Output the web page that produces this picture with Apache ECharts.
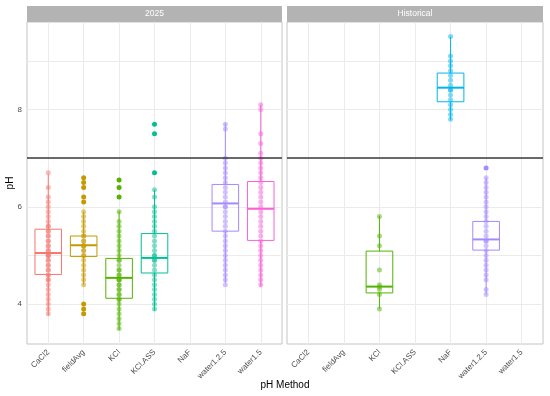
<!DOCTYPE html>
<html><head><meta charset="utf-8">
<script src="https://cdn.jsdelivr.net/npm/echarts@6/dist/echarts.min.js"></script>
<style>html,body{margin:0;padding:0;background:#fff}#c{width:550px;height:396px}</style>
</head><body><div id="c"></div>
<script>
// ---------- data ----------
const categories = ['CaCl2', 'fieldAvg', 'KCl', 'KCl.ASS', 'NaF', 'water1.2.5', 'water1.5'];
const colors = ['#F8766D', '#C49A00', '#53B400', '#00C094', '#00B6EB', '#A58AFF', '#FB61D7'];
const panels = ['2025', 'Historical'];
const yTickLabels = [4, 6, 8];
const yGridValues = [3, 4, 5, 6, 7, 8, 9];
const refLineValue = 7;

// box stats: [category index, lower whisker, Q1, median, Q3, upper whisker]
const box2025 = [
  [0, 3.77, 4.61, 5.05, 5.54, 6.67],
  [1, 4.40, 4.98, 5.21, 5.40, 5.90],
  [2, 3.47, 4.12, 4.54, 4.94, 5.91],
  [3, 3.86, 4.64, 4.95, 5.45, 6.35],
  [5, 4.44, 5.50, 6.07, 6.46, 7.72],
  [6, 4.36, 5.31, 5.96, 6.52, 8.10]
];
const boxHistorical = [
  [2, 3.91, 4.23, 4.36, 5.09, 5.81],
  [4, 7.79, 8.16, 8.45, 8.75, 9.50],
  [5, 4.20, 5.11, 5.33, 5.70, 6.60]
];

// 2025 observations
const pts2025_CaCl2 = [6.7, 6.4, 6.2, 6.1, 6.0, 5.9, 5.8, 5.7, 5.6, 5.6, 5.5, 5.5, 5.4, 5.4, 5.3, 5.3, 5.2, 5.2, 5.1, 5.1, 5.0, 5.0, 5.0, 4.9, 4.9, 4.8, 4.8, 4.7, 4.7, 4.6, 4.6, 4.5, 4.5, 4.4, 4.3, 4.2, 4.1, 4.0, 3.9, 3.8];
const pts2025_fieldAvg = [5.9, 5.8, 5.7, 5.6, 5.5, 5.4, 5.4, 5.3, 5.3, 5.2, 5.2, 5.2, 5.1, 5.1, 5.0, 5.0, 4.9, 4.8, 4.7, 4.6, 4.5, 4.4];
const out2025_fieldAvg = [6.6, 6.5, 6.4, 6.2, 6.1, 4.0, 3.9, 3.8];
const pts2025_KCl = [5.9, 5.7, 5.6, 5.5, 5.4, 5.3, 5.2, 5.1, 5.0, 4.9, 4.9, 4.8, 4.7, 4.7, 4.6, 4.6, 4.5, 4.5, 4.5, 4.4, 4.4, 4.3, 4.3, 4.2, 4.2, 4.1, 4.1, 4.0, 3.9, 3.8, 3.7, 3.6, 3.5];
const out2025_KCl = [6.55, 6.4, 6.2];
const pts2025_KClASS = [6.35, 6.2, 6.0, 5.9, 5.8, 5.7, 5.6, 5.5, 5.4, 5.3, 5.2, 5.1, 5.0, 5.0, 4.9, 4.9, 4.8, 4.7, 4.6, 4.5, 4.4, 4.3, 4.2, 4.1, 4.0, 3.9];
const out2025_KClASS = [7.7, 7.5, 6.7];
const pts2025_water125 = [7.7, 7.6, 7.0, 6.9, 6.8, 6.7, 6.6, 6.5, 6.4, 6.3, 6.2, 6.1, 6.0, 6.0, 5.9, 5.8, 5.7, 5.6, 5.5, 5.4, 5.3, 5.2, 5.1, 5.0, 4.9, 4.8, 4.7, 4.6, 4.5, 4.4];
const pts2025_water15 = [8.1, 8.0, 7.5, 7.3, 7.1, 7.0, 6.9, 6.8, 6.7, 6.6, 6.5, 6.4, 6.3, 6.2, 6.1, 6.0, 5.9, 5.8, 5.7, 5.6, 5.5, 5.4, 5.3, 5.2, 5.1, 5.0, 4.9, 4.8, 4.7, 4.6, 4.5, 4.4];

// Historical observations
const ptsHist_KCl = [5.8, 5.4, 5.2, 4.7, 4.4, 4.35, 4.3, 4.2, 3.9];
const ptsHist_NaF = [9.5, 9.1, 9.0, 8.9, 8.8, 8.7, 8.6, 8.5, 8.4, 8.4, 8.3, 8.2, 8.1, 8.0, 7.9, 7.8];
const ptsHist_water125 = [6.6, 6.5, 6.4, 6.3, 6.2, 6.1, 6.0, 5.9, 5.8, 5.7, 5.6, 5.5, 5.4, 5.3, 5.3, 5.2, 5.1, 5.0, 4.9, 4.8, 4.7, 4.6, 4.5, 4.3, 4.2];
const outHist_water125 = [6.8];

// ---------- build ----------
const panelPoints = [
  [[0, pts2025_CaCl2, []], [1, pts2025_fieldAvg, out2025_fieldAvg], [2, pts2025_KCl, out2025_KCl],
   [3, pts2025_KClASS, out2025_KClASS], [5, pts2025_water125, []], [6, pts2025_water15, []]],
  [[2, ptsHist_KCl, []], [4, ptsHist_NaF, []], [5, ptsHist_water125, outHist_water125]]
];
const panelBoxes = [box2025, boxHistorical];

const FONT = '"Liberation Sans", Arial, Helvetica, sans-serif';
const gridColor = '#EBEBEB';
const grids = [
  {left: 27, right: 268, top: 22, bottom: 52},
  {left: 287, right: 7, top: 22, bottom: 52}
].map(g => Object.assign(g, {show: true, borderColor: '#C4C4C4', borderWidth: 1, backgroundColor: 'transparent'}));

const idx = categories.map((_, i) => i);
const xAxes = [0, 1].map(p => ({
  type: 'value', gridIndex: p, min: -0.6, max: 6.6,
  axisLine: {show: false},
  axisTick: {show: false, customValues: idx},
  axisLabel: {customValues: idx, formatter: v => categories[Math.round(v)], rotate: 45,
    fontSize: 8, color: '#4D4D4D', margin: 7, fontFamily: FONT},
  splitLine: {show: true, lineStyle: {color: gridColor, width: 1}}
}));
const yAxes = [0, 1].map(p => ({
  type: 'value', gridIndex: p, min: 3.18, max: 9.8,
  axisLine: {show: false},
  axisTick: {show: false, customValues: yGridValues},
  axisLabel: {show: p === 0, customValues: yTickLabels, fontSize: 8, color: '#4D4D4D', margin: 5, fontFamily: FONT},
  splitLine: {show: true, lineStyle: {color: gridColor, width: 1}}
}));

const series = [];
[0, 1].forEach(p => {
  series.push({
    type: 'custom', xAxisIndex: p, yAxisIndex: p, z: 2,
    encode: {x: 0, y: [1, 2, 3, 4, 5]},
    data: panelBoxes[p],
    renderItem: (params, api) => {
      const x = api.value(0);
      const lo = api.coord([x, api.value(1)]);
      const q1 = api.coord([x, api.value(2)]);
      const md = api.coord([x, api.value(3)]);
      const q3 = api.coord([x, api.value(4)]);
      const hi = api.coord([x, api.value(5)]);
      const hw = api.size([0.75, 0])[0] / 2;
      const c = colors[x];
      return {type: 'group', children: [
        {type: 'line', shape: {x1: lo[0], y1: lo[1], x2: q1[0], y2: q1[1]}, style: {stroke: c, lineWidth: 1}},
        {type: 'line', shape: {x1: q3[0], y1: q3[1], x2: hi[0], y2: hi[1]}, style: {stroke: c, lineWidth: 1}},
        {type: 'rect', shape: {x: q1[0] - hw, y: q3[1], width: 2 * hw, height: q1[1] - q3[1]},
          style: {fill: 'rgba(255,255,255,0)', stroke: c, lineWidth: 1}},
        {type: 'line', shape: {x1: md[0] - hw, y1: md[1], x2: md[0] + hw, y2: md[1]}, style: {stroke: c, lineWidth: 2}}
      ]};
    }
  });
  panelPoints[p].forEach(([ci, pts, outs]) => {
    series.push({
      type: 'scatter', xAxisIndex: p, yAxisIndex: p, z: 3, symbolSize: 5,
      itemStyle: {color: colors[ci], opacity: 0.5},
      data: pts.map(v => [ci, v])
    });
    if (outs.length) series.push({
      type: 'scatter', xAxisIndex: p, yAxisIndex: p, z: 4, symbolSize: 5,
      itemStyle: {color: colors[ci], opacity: 1},
      data: outs.map(v => [ci, v])
    });
  });
  series.push({
    type: 'scatter', xAxisIndex: p, yAxisIndex: p, z: 5, data: [],
    markLine: {silent: true, symbol: 'none', animation: false, label: {show: false},
      lineStyle: {color: '#3A3A3A', width: 1.6, type: 'solid'},
      data: [{yAxis: refLineValue}]}
  });
});

const graphic = [];
grids.forEach((g, p) => {
  const x0 = g.left, w = 550 - g.right - g.left;
  graphic.push({type: 'rect', left: x0, top: 6, shape: {width: w, height: 16}, style: {fill: '#B3B3B3'}, z: 10});
  graphic.push({type: 'text', x: x0 + w / 2, y: 14, style: {text: panels[p], fill: '#FFFFFF', fontSize: 8.5,
    fontFamily: FONT, align: 'center', verticalAlign: 'middle'}, z: 11});
});
graphic.push({type: 'text', x: 285, y: 385, style: {text: 'pH Method', fill: '#000', fontSize: 10, fontFamily: FONT,
  align: 'center', verticalAlign: 'middle'}, z: 11});
graphic.push({type: 'text', x: 10, y: 183, rotation: Math.PI / 2, style: {text: 'pH', fill: '#000', fontSize: 10,
  fontFamily: FONT, align: 'center', verticalAlign: 'middle'}, z: 11});

const chart = echarts.init(document.getElementById('c'), null, {renderer: 'canvas'});
chart.setOption({
  animation: false,
  backgroundColor: '#FFFFFF',
  textStyle: {fontFamily: FONT},
  grid: grids, xAxis: xAxes, yAxis: yAxes, series, graphic
});
</script></body></html>
